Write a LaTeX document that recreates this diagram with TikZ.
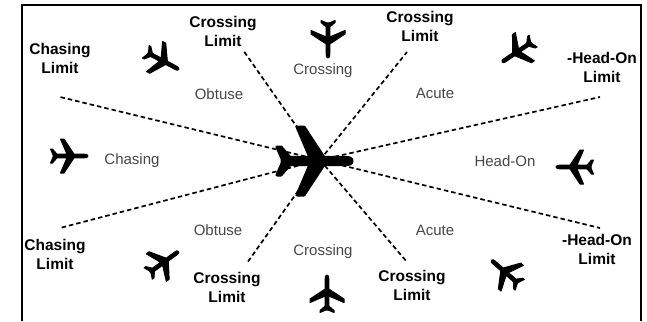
\documentclass[tikz,border=0pt]{standalone}
\usepackage{fontspec}
\setmainfont{Liberation Sans}
\usepackage{xcolor}
\usetikzlibrary{positioning,calc}

\begin{document}
\begin{tikzpicture}
    [x=1pt,y=-1pt,
     limit/.style={font=\bfseries\fontsize{15.5}{19}\selectfont,align=center,inner sep=0pt},
     sector/.style={text=black!72,font=\fontsize{15}{19}\selectfont,inner sep=0pt},
     border/.style={draw,line width=2pt},
     sight/.style={draw,line width=1.7pt,dash pattern=on 4.5pt off 3pt},
     plane/.pic={
       \filldraw[line join=round] (18,0) .. controls (18,1.8) and (16,1.8) .. (14,1.8) -- (4,1.8)
         -- (-6,17) -- (-9.5,17) -- (-3,1.8) -- (-13,1.8)
         -- (-17.5,7) -- (-19.5,7) -- (-17,1.2) -- (-17,-1.2)
         -- (-19.5,-7) -- (-17.5,-7) -- (-13,-1.8) -- (-3,-1.8)
         -- (-9.5,-17) -- (-6,-17) -- (4,-1.8) -- (14,-1.8)
         .. controls (16,-1.8) and (18,-1.8) .. (18,0) -- cycle;
     }]
    \useasboundingbox (0,0) rectangle (647,321);
    \draw[border] (22,321) -- (22,5) -- (641,5) -- (641,321);

    % lines of sight
    \coordinate (O) at (320,160);
    \coordinate (E1) at (60,97);
    \coordinate (E2) at (243,50);
    \coordinate (E3) at (407,52);
    \coordinate (E4) at (600,97);
    \coordinate (E5) at (600,228);
    \coordinate (E6) at (407,262);
    \coordinate (E7) at (247,263);
    \coordinate (E8) at (60,228);
    \foreach \e in {E1,E2,E3,E4,E5,E6,E7,E8}
      \draw[sight] (O) -- (\e);

    % own ship and intruders
    \pic[scale=2,line width=3pt] (own) at (316,161) {plane};
    \pic[line width=1pt] (P1) at (70,156) {plane};
    \pic[rotate=-28,line width=1pt] (P2) at (163,61) {plane};
    \pic[rotate=-90,line width=1pt] (P3) at (328,40) {plane};
    \pic[rotate=-146,line width=1pt] (P4) at (517,52) {plane};
    \pic[rotate=180,line width=1pt] (P5) at (574,167) {plane};
    \pic[rotate=139,line width=1pt] (P6) at (505,272) {plane};
    \pic[rotate=90,line width=1pt] (P7) at (327,293) {plane};
    \pic[rotate=36,line width=1pt] (P8) at (164,262) {plane};

    \node (CL1) at (60,58) [limit] {Chasing\\Limit};
    \node (XL1) at (223,31) [limit] {Crossing\\Limit};
    \node (XL2) at (420,26) [limit] {Crossing\\Limit};
    \node (HL1) at (602,67) [limit] {-Head-On\\Limit};
    \node (CL2) at (55,254) [limit] {Chasing\\Limit};
    \node (XL3) at (227,287) [limit] {Crossing\\Limit};
    \node (XL4) at (412,285) [limit] {Crossing\\Limit};
    \node (HL2) at (597,249) [limit] {-Head-On\\Limit};

    \node (OB1) at (219,94) [sector] {Obtuse};
    \node (CR1) at (323,71) [sector] {Crossing};
    \node (AC1) at (435,93) [sector] {Acute};
    \node (CH) at (132,161) [sector] {Chasing};
    \node (HO) at (505,161) [sector] {Head-On};
    \node (OB2) at (218,230) [sector] {Obtuse};
    \node (CR2) at (323,252) [sector] {Crossing};
    \node (AC2) at (435,230) [sector] {Acute};
\end{tikzpicture}
\end{document}
